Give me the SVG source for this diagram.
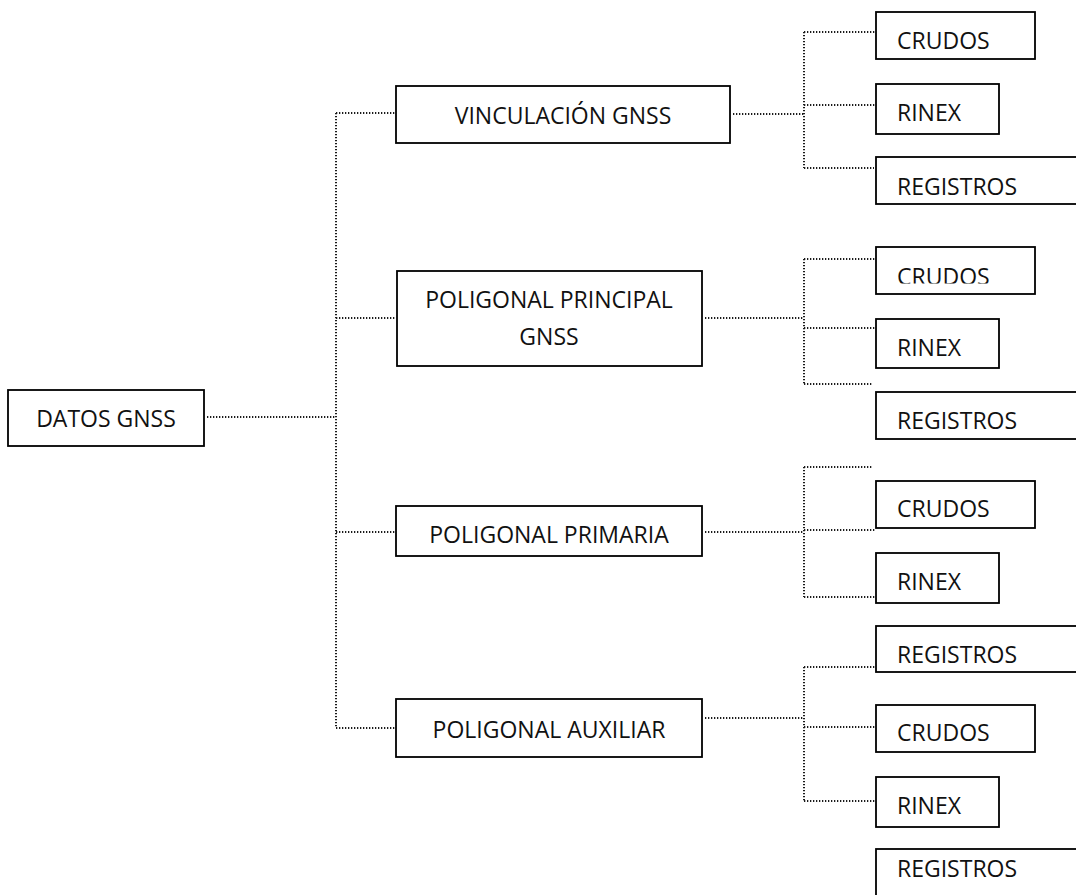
<svg xmlns="http://www.w3.org/2000/svg" width="1076" height="895" viewBox="0 0 1076 895">
<style>
.box{fill:#fff;stroke:#000;stroke-width:1.8}
.t{font-family:"Open Sans","DejaVu Sans",sans-serif;font-size:23px;fill:#111}
.c{text-anchor:middle}
.d{fill:none;stroke:#1a1a1a;stroke-width:2;stroke-dasharray:1.3 1.7}
</style>
<defs>
<clipPath id="clipC2"><rect x="870" y="240" width="200" height="43.6"/></clipPath>
</defs>
<rect width="1076" height="895" fill="#fff"/>
<g id="connectors">
<path class="d" d="M207 417H336M336 113V728M336 113H396M336 318H396M336 532H396M336 728H396"/>
<path class="d" d="M733 114H804M804 32V168M804 32H876M804 105H876M804 168H874"/>
<path class="d" d="M705 318H804M804 259V384M804 259H876M804 328H876M804 384H873"/>
<path class="d" d="M705 532H804M804 467V597M804 467H873M804 530H876M804 597H876"/>
<path class="d" d="M705 718H804M804 667V801M804 667H876M804 727H876M804 801H876"/>
</g>
<g id="datos"><rect class="box" x="8" y="390" width="196" height="56"/><text class="t c" x="106" y="426.5">DATOS GNSS</text></g>
<g id="vinculacion"><rect class="box" x="396" y="86" width="334" height="57"/><text class="t c" x="563" y="124">VINCULACIÓN GNSS</text></g>
<g id="principal"><rect class="box" x="397" y="271" width="305" height="95"/><text class="t c" x="549" y="308">POLIGONAL PRINCIPAL</text><text class="t c" x="549" y="345">GNSS</text></g>
<g id="primaria"><rect class="box" x="396" y="506" width="306" height="50"/><text class="t c" x="549" y="543">POLIGONAL PRIMARIA</text></g>
<g id="auxiliar"><rect class="box" x="396" y="699" width="306" height="58"/><text class="t c" x="549" y="738">POLIGONAL AUXILIAR</text></g>
<g id="crudos1"><rect class="box" x="876" y="12" width="159" height="47"/><text class="t" x="897" y="49">CRUDOS</text></g>
<g id="rinex1"><rect class="box" x="876" y="84" width="123" height="50"/><text class="t" x="897" y="121">RINEX</text></g>
<g id="registros1"><rect class="box" x="876" y="157" width="220" height="47"/><text class="t" x="897" y="194.5">REGISTROS</text></g>
<g id="crudos2"><rect class="box" x="876" y="247" width="159" height="47"/><text class="t" x="897" y="284.5" clip-path="url(#clipC2)">CRUDOS</text></g>
<g id="rinex2"><rect class="box" x="876" y="319" width="123" height="49"/><text class="t" x="897" y="356">RINEX</text></g>
<g id="registros2"><rect class="box" x="876" y="392" width="220" height="47"/><text class="t" x="897" y="428.5">REGISTROS</text></g>
<g id="crudos3"><rect class="box" x="876" y="481" width="159" height="47"/><text class="t" x="897" y="517">CRUDOS</text></g>
<g id="rinex3"><rect class="box" x="876" y="553" width="123" height="50"/><text class="t" x="897" y="589.5">RINEX</text></g>
<g id="registros3"><rect class="box" x="876" y="626" width="220" height="46"/><text class="t" x="897" y="662.5">REGISTROS</text></g>
<g id="crudos4"><rect class="box" x="876" y="705" width="159" height="47"/><text class="t" x="897" y="741">CRUDOS</text></g>
<g id="rinex4"><rect class="box" x="876" y="777" width="123" height="50"/><text class="t" x="897" y="814">RINEX</text></g>
<g id="registros4"><rect class="box" x="876" y="849" width="220" height="60"/><text class="t" x="897" y="877">REGISTROS</text></g>
</svg>
